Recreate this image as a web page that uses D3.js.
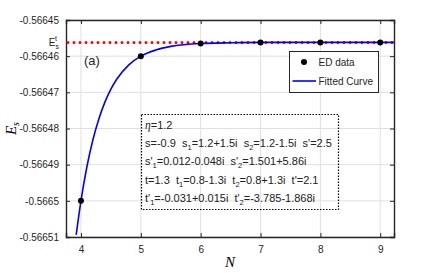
<!DOCTYPE html>
<html>
<head>
<meta charset="UTF-8"/>
<style>
  body { margin: 0; background: #fff; }
  svg { display: block; }
  text { font-family: "Liberation Sans", Arial, sans-serif; fill: #262626; }
  .tick text { font-size: 10px; }
  .grid line { stroke: #e0e0e0; stroke-width: 1; }
  .axlabel { font-family: "Liberation Serif", serif; font-style: italic; font-size: 15px; fill: #000; }
  .note { font-size: 11px; fill: #222; white-space: pre; }
</style>
</head>
<body>
<svg width="436" height="273"></svg>
<script src="https://d3js.org/d3.v7.min.js"></script>
<script>
// ED data points
const edN = [4, 5, 6, 7, 8, 9];
const edE = [-0.5665000, -0.5664600, -0.5664565, -0.5664562, -0.5664562, -0.5664562];
// fitted curve
const fitN = [3.92, 4, 4.1, 4.2, 4.3, 4.4, 4.5, 4.6, 4.8, 5, 5.25, 5.5, 6, 6.5, 7, 8, 9.25];
const fitE = [-0.5665094, -0.5665000, -0.5664905, -0.5664831, -0.5664773, -0.5664727,
  -0.5664691, -0.5664663, -0.5664624, -0.5664600, -0.5664583, -0.5664573,
  -0.5664565, -0.5664563, -0.5664562, -0.5664562, -0.5664562];
// thermodynamic limit E_s^t
const eThermo = -0.5664562;
const xTicks = [4, 5, 6, 7, 8, 9];
const yTicks = [-0.56645, -0.56646, -0.56647, -0.56648, -0.56649, -0.5665, -0.56651];
const yTickLabels = ['-0.56645', '-0.56646', '-0.56647', '-0.56648', '-0.56649', '-0.5665', '-0.56651'];
const legendLabels = ['ED data', 'Fitted Curve'];
const noteLines = [
  [['η', 'i'], ['=1.2', '']],
  [['s=-0.9  s', ''], ['1', 'sub'], ['=1.2+1.5i  s', ''], ['2', 'sub'], ['=1.2-1.5i  s\'=2.5', '']],
  [['s\'', ''], ['1', 'sub'], ['=0.012-0.048i  s\'', ''], ['2', 'sub'], ['=1.501+5.86i', '']],
  [['t=1.3  t', ''], ['1', 'sub'], ['=0.8-1.3i  t', ''], ['2', 'sub'], ['=0.8+1.3i  t\'=2.1', '']],
  [['t\'', ''], ['1', 'sub'], ['=-0.031+0.015i  t\'', ''], ['2', 'sub'], ['=-3.785-1.868i', '']]
];

const svg = d3.select('svg');
const L = 66, R = 394, T = 20, B = 237;
const x = d3.scaleLinear().domain([3.75, 9.23]).range([L, R]);
const y = d3.scaleLinear().domain([-0.56651, -0.56645]).range([B, T]);

// grid
const grid = svg.append('g').attr('class', 'grid');
grid.selectAll('.gx').data(xTicks).enter().append('line')
  .attr('x1', d => x(d)).attr('x2', d => x(d)).attr('y1', T).attr('y2', B);
grid.selectAll('.gy').data(yTicks).enter().append('line')
  .attr('x1', L).attr('x2', R).attr('y1', d => y(d)).attr('y2', d => y(d));

// axes (MATLAB style box, ticks inward)
const axB = svg.append('g').attr('transform', `translate(0,${B})`)
  .call(d3.axisBottom(x).tickValues(xTicks).tickSize(-4).tickPadding(9).tickFormat(d3.format('d')));
const axT = svg.append('g').attr('transform', `translate(0,${T})`)
  .call(d3.axisTop(x).tickValues(xTicks).tickSize(-4).tickFormat(''));
const axL = svg.append('g').attr('transform', `translate(${L},0)`)
  .call(d3.axisLeft(y).tickValues(yTicks).tickSize(-4).tickPadding(7).tickFormat((d, i) => yTickLabels[i]));
const axR = svg.append('g').attr('transform', `translate(${R},0)`)
  .call(d3.axisRight(y).tickValues(yTicks).tickSize(-4).tickFormat(''));
[axB, axT, axL, axR].forEach(a => {
  a.select('.domain').attr('stroke', '#262626').attr('stroke-width', 1.4);
  a.selectAll('.tick line').attr('stroke', '#262626');
  a.selectAll('.tick text').attr('fill', '#262626').attr('font-family', '"Liberation Sans", Arial, sans-serif');
});

// E_s^t label on the y axis
const et = svg.append('text').attr('x', L - 7).attr('y', y(eThermo) + 3.5)
  .attr('text-anchor', 'end').attr('font-size', 10);
et.append('tspan').text('E');
et.append('tspan').attr('font-size', 7).attr('dy', 3).text('s');
et.append('tspan').attr('font-size', 7).attr('dx', -4).attr('dy', -8).text('t');

// dotted red line
svg.append('line')
  .attr('x1', x(3.75) + 2).attr('x2', x(9.23)).attr('y1', y(eThermo)).attr('y2', y(eThermo))
  .attr('stroke', '#ff0000').attr('stroke-width', 3).attr('stroke-linecap', 'round')
  .attr('stroke-dasharray', '0 6');

// fitted curve
const fit = fitN.map((n, i) => [n, fitE[i]]);
svg.append('clipPath').attr('id', 'clip').append('rect')
  .attr('x', L).attr('y', T).attr('width', R - L).attr('height', B - T);
svg.append('path').datum(fit).attr('clip-path', 'url(#clip)')
  .attr('fill', 'none').attr('stroke', '#0000ff').attr('stroke-width', 1.6)
  .attr('d', d3.line().x(d => x(d[0])).y(d => y(d[1])).curve(d3.curveMonotoneX));

// ED data
svg.selectAll('.ed').data(edN).enter().append('circle')
  .attr('cx', d => x(d)).attr('cy', (d, i) => y(edE[i])).attr('r', 3).attr('fill', '#000');

// panel label
svg.append('text').attr('x', 84).attr('y', 65).attr('font-size', 13).attr('fill', '#000').text('(a)');

// legend
const lg = svg.append('g');
lg.append('rect').attr('x', 289.5).attr('y', 51.5).attr('width', 89).attr('height', 41)
  .attr('fill', '#fff').attr('stroke', '#262626').attr('stroke-width', 1);
lg.append('circle').attr('cx', 304).attr('cy', 62).attr('r', 3).attr('fill', '#000');
lg.append('line').attr('x1', 292.5).attr('x2', 316).attr('y1', 81).attr('y2', 81)
  .attr('stroke', '#0000ff').attr('stroke-width', 1.6);
lg.selectAll('.lt').data(legendLabels).enter().append('text')
  .attr('x', 318.5).attr('y', (d, i) => 65.5 + i * 19).attr('font-size', 10).attr('fill', '#000')
  .text(d => d);

// parameter box
svg.append('rect').attr('x', 141.5).attr('y', 114.5).attr('width', 197).attr('height', 95)
  .attr('fill', 'none').attr('stroke', '#000').attr('stroke-width', 1.2).attr('stroke-dasharray', '1.5 1.5');
noteLines.forEach((parts, i) => {
  const t = svg.append('text').attr('class', 'note').attr('x', 145).attr('y', 129 + i * 18.2);
  let lastSub = false;
  parts.forEach(p => {
    const s = t.append('tspan').text(p[0]);
    if (p[1] === 'sub') { s.attr('font-size', 7.5).attr('dy', 3); lastSub = true; return; }
    if (p[1] === 'i') s.attr('font-family', '"Liberation Serif", serif').attr('font-style', 'italic').attr('font-size', 11.5);
    if (lastSub) s.attr('dy', -3);
    lastSub = false;
  });
});

// axis labels
const yl = svg.append('text').attr('class', 'axlabel')
  .attr('transform', `translate(16,${(T + B) / 2}) rotate(-90)`).attr('text-anchor', 'middle');
yl.append('tspan').text('E');
yl.append('tspan').attr('font-size', 10).attr('dy', 3).text('s');
svg.append('text').attr('class', 'axlabel').attr('x', (L + R) / 2).attr('y', 267)
  .attr('text-anchor', 'middle').text('N');
</script>
</body>
</html>
